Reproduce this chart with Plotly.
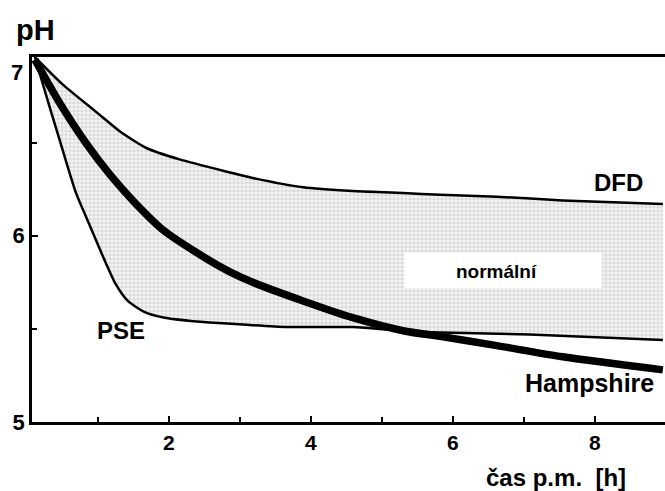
import plotly.graph_objects as go

# --- data (time in h, pH) ---
dfd_x = [0.11, 0.51, 0.99, 1.31, 1.69, 2.15, 2.86, 3.18, 3.89, 4.59, 5.30, 5.82, 6.62, 7.55, 8.96]
dfd_y = [6.96, 6.81, 6.66, 6.56, 6.47, 6.41, 6.34, 6.31, 6.26, 6.24, 6.23, 6.22, 6.21, 6.19, 6.17]

pse_x = [0.11, 0.32, 0.51, 0.69, 0.89, 1.08, 1.25, 1.42, 1.66, 1.94, 2.39, 2.76, 3.66, 4.59, 5.30, 5.82, 7.08, 8.96]
pse_y = [6.96, 6.69, 6.45, 6.23, 6.05, 5.88, 5.74, 5.65, 5.59, 5.56, 5.54, 5.53, 5.51, 5.51, 5.49, 5.48, 5.47, 5.44]

ham_x = [0.11, 0.465, 0.817, 1.169, 1.521, 1.915, 2.394, 2.859, 3.18, 3.89, 4.59, 5.30, 5.82, 6.62, 7.55, 8.96]
ham_y = [6.946, 6.71, 6.505, 6.328, 6.177, 6.032, 5.909, 5.806, 5.75, 5.65, 5.56, 5.49, 5.46, 5.41, 5.35, 5.28]

x_ticks = [2, 4, 6, 8]
x_minor = [1, 3, 5, 7]
y_ticks = [5, 6]
y_minor = [5.5, 6.5]

FONT = "Liberation Sans, Arial, sans-serif"

fig = go.Figure()

# normal band (between DFD and PSE)
band_x = dfd_x + pse_x[::-1]
band_y = dfd_y + pse_y[::-1]
fig.add_trace(go.Scatter(
    x=band_x, y=band_y, mode="lines", fill="toself",
    line=dict(width=0, color="rgba(0,0,0,0)"),
    fillcolor="rgba(255,255,255,0)",
    fillpattern=dict(shape="+", size=4, solidity=0.3, fgcolor="#c8c8c8", bgcolor="#f5f5f5", fillmode="replace"),
    hoverinfo="skip", showlegend=False))

fig.add_trace(go.Scatter(x=dfd_x, y=dfd_y, mode="lines",
                         line=dict(color="black", width=2.5, shape="spline", smoothing=0.6), showlegend=False))
fig.add_trace(go.Scatter(x=pse_x, y=pse_y, mode="lines",
                         line=dict(color="black", width=2.5, shape="spline", smoothing=0.6), showlegend=False))
fig.add_trace(go.Scatter(x=ham_x, y=ham_y, mode="lines",
                         line=dict(color="black", width=7.5, shape="spline", smoothing=0.8), showlegend=False))

# white box behind "normální"
fig.add_shape(type="rect", x0=5.32, x1=8.10, y0=5.72, y1=5.91, fillcolor="white", line=dict(width=0), layer="above")

def ann(text, x, y, size, xref="x", yref="y", xanchor="center"):
    fig.add_annotation(text="<b>%s</b>" % text, x=x, y=y, xref=xref, yref=yref, showarrow=False,
                       xanchor=xanchor, yanchor="middle", font=dict(family=FONT, size=size, color="black"))

ann("normální", 6.61, 5.81, 19)
ann("DFD", 8.34, 6.285, 24)
ann("PSE", 1.32, 5.49, 24)
ann("Hampshire", 7.92, 5.21, 25)
ann("7", -0.0237, 6.876, 22, xref="paper")
ann("pH", 0.006, 1.074, 29, xref="paper", yref="paper")
ann("čas p.m.&nbsp; [h]", 0.828, -0.151, 24, xref="paper", yref="paper")

fig.update_layout(
    width=665, height=491,
    margin=dict(l=32, r=0, t=57, b=69),
    paper_bgcolor="white", plot_bgcolor="white",
    hovermode=False,
    xaxis=dict(range=[0.07, 8.99], showgrid=False, zeroline=False, showline=True, linecolor="black",
               linewidth=2.5, mirror=True, ticks="inside", ticklen=6, tickwidth=2, tickcolor="black",
               tickvals=x_ticks, ticktext=[str(v) for v in x_ticks],
               minor=dict(tickvals=x_minor, ticks="inside", ticklen=5, tickwidth=2, tickcolor="black"),
               tickfont=dict(family=FONT, size=21, color="black", weight="bold")),
    yaxis=dict(range=[5, 6.96], showgrid=False, zeroline=False, showline=True, linecolor="black",
               linewidth=2.5, ticks="inside", ticklen=6, tickwidth=2, tickcolor="black",
               tickvals=y_ticks, ticktext=[str(v) for v in y_ticks],
               minor=dict(tickvals=y_minor, ticks="inside", ticklen=5, tickwidth=2, tickcolor="black"),
               tickfont=dict(family=FONT, size=22, color="black", weight="bold")),
)

fig.write_html("out.html", config={"displayModeBar": False},
               post_script="document.body.style.margin='0px';")
